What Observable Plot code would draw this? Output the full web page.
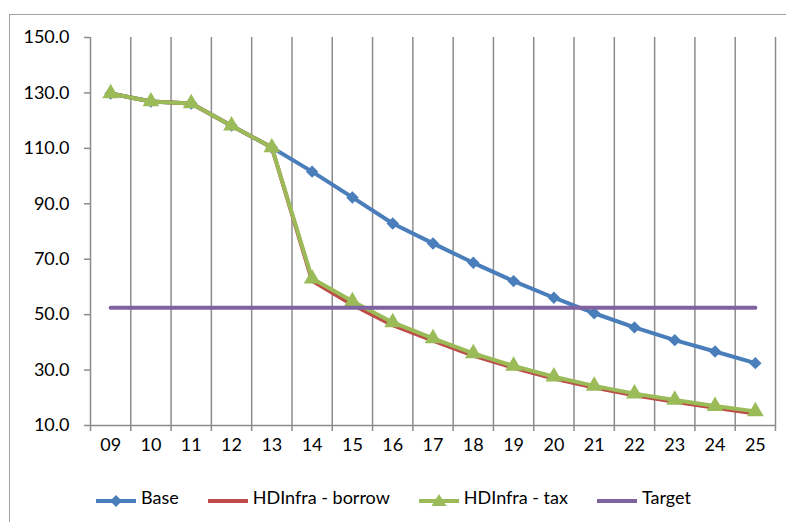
<!DOCTYPE html>
<html><head><meta charset="utf-8">
<script src="https://cdn.jsdelivr.net/npm/d3@7"></script>
<script src="https://cdn.jsdelivr.net/npm/@observablehq/plot@0.6"></script>
<style>
html,body{margin:0;padding:0;background:#fff;overflow:hidden;}
#wrap{position:relative;width:786px;height:522px;font-family:Lato,"Open Sans",sans-serif;}
#frame{position:absolute;left:9px;top:14px;width:820px;height:620px;border:1.5px solid #a0a0a0;box-sizing:border-box;}
#chart{position:absolute;left:0;top:0;}
#legend{position:absolute;top:482px;left:0;width:786px;display:flex;justify-content:center;gap:28px;font-size:18px;color:#000;}
.item{display:flex;align-items:center;}
.item span{margin-left:4px;}
</style></head>
<body><div id="wrap"><div id="frame"></div><div id="chart"></div><div id="legend"></div></div>
<script>
const years = ["09","10","11","12","13","14","15","16","17","18","19","20","21","22","23","24","25"];
const base   = [129.8,126.9,126.2,118.2,110.3,101.6,92.3,82.9,75.7,68.7,62.1,56.1,50.5,45.4,40.8,36.7,32.5];
const borrow = [129.8,126.9,126.2,118.2,110.3,62.2,53.6,46.2,40.6,35.2,30.8,26.9,23.7,20.9,18.6,16.4,14.3];
const tax    = [129.8,126.9,126.2,118.2,110.3,63.0,54.8,47.2,41.4,36.0,31.5,27.6,24.3,21.5,19.2,17.0,15.1];
const target = years.map(() => 52.5);
const yTicks = [10,30,50,70,90,110,130,150];
const seriesNames = ["Base","HDInfra - borrow","HDInfra - tax","Target"];
const colors = ["#4A7EBB","#BE4B48","#9BBB59","#7F63A1"];
const grid = "#8c8c8c";

const n = years.length;
const xi = (d, i) => i + 0.5;

const chart = Plot.plot({
  width: 786, height: 470,
  marginLeft: 90, marginRight: 11, marginTop: 37, marginBottom: 45,
  style: {fontFamily: "Lato, 'Open Sans', sans-serif", fontSize: "18px", color: "#000", background: "transparent"},
  x: {domain: [0, n], axis: null},
  y: {domain: [10, 150], axis: null},
  marks: [
    Plot.ruleX(d3.range(1, n + 1), {stroke: grid, strokeWidth: 1.5}),
    Plot.ruleX([0], {stroke: grid, strokeWidth: 1.5}),
    Plot.ruleY([10], {stroke: grid, strokeWidth: 1.5}),
    Plot.axisY({ticks: yTicks, tickSize: 6, tickFormat: () => "", stroke: grid, strokeWidth: 1.5}),
    Plot.axisY({ticks: yTicks, tickSize: 0, tickPadding: 21, tickFormat: d => d.toFixed(1), fontSize: 18, fill: "#000"}),
    Plot.axisX({ticks: d3.range(0, n + 1), tickSize: 6, tickFormat: () => "", stroke: grid, strokeWidth: 1.5}),
    Plot.axisX({ticks: years.map(xi), tickSize: 0, tickPadding: 13, tickFormat: d => years[Math.floor(d)], fontSize: 18, fill: "#000"}),
    Plot.line(base, {x: xi, y: d => d, stroke: colors[0], strokeWidth: 4}),
    Plot.dot(base, {x: xi, y: d => d, symbol: "diamond2", r: 5.6, fill: colors[0]}),
    Plot.line(borrow, {x: xi, y: d => d, stroke: colors[1], strokeWidth: 4}),
    Plot.line(tax, {x: xi, y: d => d, stroke: colors[2], strokeWidth: 4}),
    Plot.dot(tax, {x: xi, y: d => d, symbol: "triangle", r: 6.2, fill: colors[2]}),
    Plot.line(target, {x: xi, y: d => d, stroke: colors[3], strokeWidth: 4, strokeLinecap: "round"})
  ]
});
document.getElementById("chart").appendChild(chart);

const markers = ["diamond","none","triangle","none"];
const leg = document.getElementById("legend");
seriesNames.forEach((name, k) => {
  const it = document.createElement("div");
  it.className = "item";
  let m = "";
  if (markers[k] === "diamond") m = `<path d="M21,13 L27,19 L21,25 L15,19 Z" fill="${colors[k]}"/>`;
  if (markers[k] === "triangle") m = `<path d="M21,12 L28.5,24 L13.5,24 Z" fill="${colors[k]}"/>`;
  it.innerHTML = `<svg width="42" height="30"><line x1="1" x2="41" y1="19" y2="19" stroke="${colors[k]}" stroke-width="4"/>${m}</svg><span>${name}</span>`;
  leg.appendChild(it);
});
</script></body></html>
